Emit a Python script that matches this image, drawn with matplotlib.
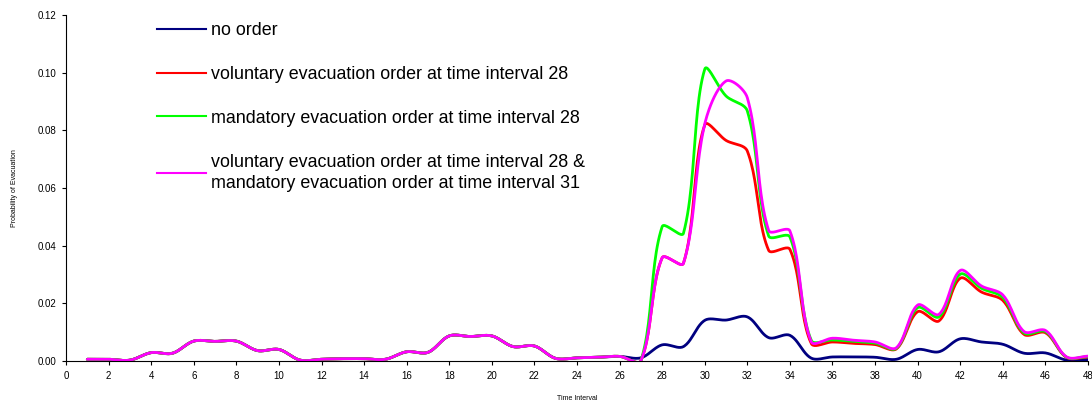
import numpy as np
import matplotlib
matplotlib.use("Agg")
import matplotlib.pyplot as plt
from matplotlib.lines import Line2D

plt.rcParams['font.family'] = ['Liberation Sans', 'DejaVu Sans']

intervals = np.arange(1, 49)

# shared part, intervals 1-26
base = [0.0006, 0.0006, 0.0003, 0.0029, 0.0027, 0.0069, 0.0068, 0.0069, 0.0036, 0.0040,
        0.0003, 0.0006, 0.0008, 0.0008, 0.0006, 0.0032, 0.0030, 0.0087, 0.0085, 0.0087,
        0.0050, 0.0052, 0.0009, 0.0011, 0.0013, 0.0016]

no_order = base + [0.0011, 0.0056, 0.0050, 0.0141, 0.0142, 0.0153, 0.0081, 0.0089, 0.0010,
                   0.0014, 0.0014, 0.0013, 0.0006, 0.0040, 0.0032, 0.0077, 0.0066, 0.0058,
                   0.0027, 0.0028, 0.0003, 0.0005]
voluntary = base + [0.0001, 0.0358, 0.0339, 0.0819, 0.0765, 0.0728, 0.0384, 0.0387, 0.0061,
                    0.0066, 0.0061, 0.0057, 0.0042, 0.0171, 0.0139, 0.0287, 0.0239, 0.0210,
                    0.0092, 0.0098, 0.0012, 0.0014]
mandatory = base + [0.0001, 0.0466, 0.0443, 0.1012, 0.0919, 0.0867, 0.0434, 0.0430, 0.0072,
                    0.0073, 0.0068, 0.0062, 0.0044, 0.0185, 0.0153, 0.0301, 0.0252, 0.0220,
                    0.0097, 0.0102, 0.0013, 0.0016]
vol_then_mand = base + [0.0001, 0.0358, 0.0339, 0.0822, 0.0971, 0.0913, 0.0453, 0.0451, 0.0067,
                        0.0079, 0.0072, 0.0066, 0.0046, 0.0194, 0.0162, 0.0314, 0.0260, 0.0229,
                        0.0102, 0.0106, 0.0014, 0.0017]

labels = ['no order',
          'voluntary evacuation order at time interval 28',
          'mandatory evacuation order at time interval 28',
          'voluntary evacuation order at time interval 28 &\nmandatory evacuation order at time interval 31']
colors = ['#000080', '#FF0000', '#00FF00', '#FF00FF']


def smooth(x, y, sx=21.3, sy=2883.0, n=24):
    # excel-like smoothed line, tangents scaled by chord lengths in screen units
    X = np.asarray(x, float) * sx
    Y = np.asarray(y, float) * sy
    P = np.column_stack([X, Y])
    P = np.vstack([P[0], P, P[-1]])
    t = np.linspace(0, 1, n, endpoint=False)[:, None]
    out = []
    for i in range(1, len(P) - 2):
        p0, p1, p2, p3 = P[i - 1], P[i], P[i + 1], P[i + 2]
        d01 = np.hypot(*(p1 - p0))
        d12 = np.hypot(*(p2 - p1))
        d23 = np.hypot(*(p3 - p2))
        f1 = d12 / (d01 + d12) if d01 + d12 > 0 else 0
        f2 = d12 / (d12 + d23) if d12 + d23 > 0 else 0
        c1 = p1 + (p2 - p0) * f1 / 3
        c2 = p2 - (p3 - p1) * f2 / 3
        out.append((1 - t) ** 3 * p1 + 3 * (1 - t) ** 2 * t * c1 + 3 * (1 - t) * t ** 2 * c2 + t ** 3 * p2)
    out.append(P[-1][None, :])
    out = np.vstack(out)
    return out[:, 0] / sx, out[:, 1] / sy


fig = plt.figure(figsize=(10.92, 4.03), dpi=100)
ax = fig.add_axes([66 / 1092, 1 - 361 / 403, 1022 / 1092, 346 / 403])

for series, c in zip([no_order, voluntary, mandatory, vol_then_mand], colors):
    lx, ly = smooth(intervals, series)
    ax.plot(lx, ly, color=c, lw=2.0, solid_capstyle='round')

ax.set_xlim(0, 48)
ax.set_ylim(0, 0.12)
ax.set_xticks(np.arange(0, 49, 2))
ax.set_yticks(np.arange(0, 0.121, 0.02))
ax.set_yticklabels([f'{v:.2f}' for v in np.arange(0, 0.121, 0.02)])
ax.spines['top'].set_visible(False)
ax.spines['right'].set_visible(False)
ax.tick_params(labelsize=7, direction='out', length=3, width=0.8, pad=4)
ax.set_xlabel('Time Interval', fontsize=5, labelpad=10)
ax.set_ylabel('Probability of Evacuation', fontsize=5, labelpad=14)

handles = [Line2D([], [], color=c, lw=1.5) for c in colors]
leg = ax.legend(handles, labels, loc='upper left', bbox_to_anchor=(0.089, 0.98), frameon=False,
                borderpad=0, borderaxespad=0,
                fontsize=12.9, handlelength=2.75, handletextpad=0.25, labelspacing=1.5)
for txt in leg.get_texts():
    txt.set_linespacing(1.38)

fig.savefig('out.png', dpi=100)
